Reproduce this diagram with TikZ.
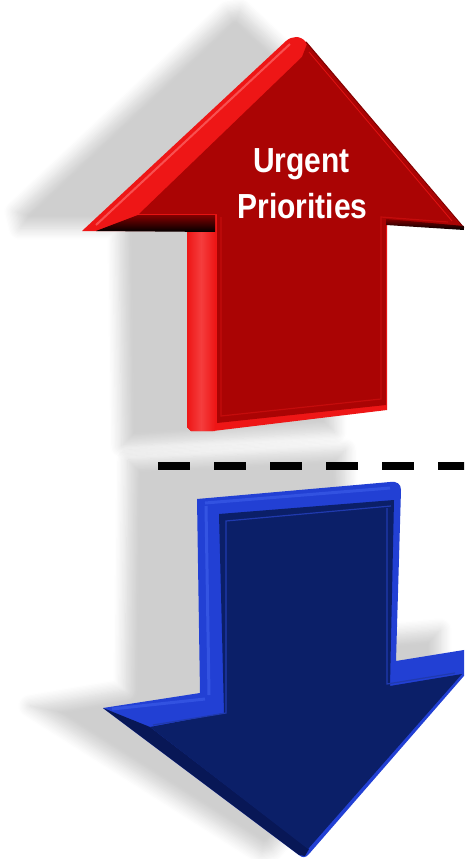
\documentclass[tikz,border=0pt]{standalone}
\usepackage{fontspec}
\newfontfamily\arialfont{Liberation Sans}
\usetikzlibrary{shadows.blur}
\definecolor{redbright}{RGB}{238,22,22}
\definecolor{redface}{RGB}{170,4,4}
\definecolor{redhi}{RGB}{255,120,120}
\definecolor{redframe}{RGB}{196,12,12}
\definecolor{reddark}{RGB}{130,0,0}
\definecolor{bluebright}{RGB}{34,64,212}
\definecolor{blueface}{RGB}{11,31,104}
\definecolor{blueside}{RGB}{8,23,86}
\definecolor{bluehi}{RGB}{75,110,245}
\definecolor{blueframe}{RGB}{32,58,175}
\tikzset{
  shadowshape/.style={blur shadow={shadow xshift=0pt, shadow yshift=0pt, shadow blur radius=12pt, shadow opacity=19, shadow blur steps=10}},
  dashline/.style={line width=7.5pt, dash pattern=on 32pt off 24pt, line cap=butt},
  txt/.style={text=white, font=\arialfont\bfseries\fontsize{30}{36}\selectfont, anchor=base, inner sep=0pt},
}
\begin{document}
\begin{tikzpicture}[x=1pt,y=-1pt]
\useasboundingbox (0,0) rectangle (464,859);
\clip (0,0) rectangle (464,859);
% shadows
\path[shadowshape] (16,212) -- (228,12) -- (240,10) -- (330,95) -- (335,432) -- (122,446) -- (119,228) -- (20,228) -- cycle;
\path[shadowshape] (128,460) -- (345,450) -- (350,638) -- (440,630) -- (440,660) -- (272,850) -- (262,853) -- (30,706) -- (125,690) -- cycle;
% dashed separator
\coordinate (dl) at (158,466);
\coordinate (dr) at (470,466);
\draw[dashline] (dl) -- (dr);
% ---------------- red arrow
\fill[redbright] (82,231) -- (286,41) .. controls (292,36) and (300,35) .. (306,42) -- (464,228) -- (387,221) -- (387,410) -- (213,431) -- (191,431) -- (187,427) -- (187,231) -- cycle;
\shade[top color=reddark, bottom color=black] (96,231) -- (138,215) -- (215,215) -- (215,232) -- cycle;
\shade[left color=redbright, right color=redbright, middle color=redbright!60!redhi] (187,232) -- (215,232) -- (215,431) -- (191,431) -- (187,427) -- cycle;
\draw[redhi, line width=2, opacity=0.6] (96,225) -- (290,44);
\fill[redface] (302,57) -- (307,44) -- (462,227) -- (386,220) -- (386,405) -- (217,423) -- (217,214) -- (139,214) -- cycle;
\draw[reddark, line width=1.2] (306,42) -- (464,228);
\draw[redbright, line width=0.8, opacity=0.8] (309,52) -- (452,221);
\draw[redframe, line width=1.2] (221,217) -- (221,416) -- (381,399) -- (381,217) -- (448,222);
\shade[top color=reddark, bottom color=black] (386,219) -- (464,226) -- (464,230) -- (386,225) -- cycle;
% ---------------- blue arrow
\fill[bluebright] (197,499) -- (390,482) .. controls (397,481) and (401,484) .. (401,490) -- (396,661) -- (470,649) -- (470,669) -- (309,854) .. controls (306,858) and (302,858) .. (299,855) -- (103,708) -- (200,693) -- cycle;
\draw[bluehi, line width=3, opacity=0.45] (206,506) -- (209,695);
\draw[bluehi, line width=3, opacity=0.4] (205,503) -- (390,488);
\draw[bluehi, line width=3, opacity=0.4] (112,709) -- (205,699);
\fill[blueside] (103,708) -- (150,727) -- (309,849) -- (305,856) -- (299,855) -- cycle;
\fill[blueface] (219,514) -- (394,500) -- (390,686) -- (462,674) -- (308,849) -- (150,727) -- (224,713) -- cycle;
\draw[blueframe, line width=1.2] (153,725) -- (226,713) -- (226,521) -- (391,506);
\draw[blueframe, line width=1.2] (387,508) -- (387,684) -- (455,673);
% ---------------- text
\node[txt] (urgent) at (301.5,172) {\scalebox{1}[1.16]{Urgent}};
\node[txt] (priorities) at (302.5,218) {\scalebox{1}[1.16]{Priorities}};
\end{tikzpicture}
\end{document}
